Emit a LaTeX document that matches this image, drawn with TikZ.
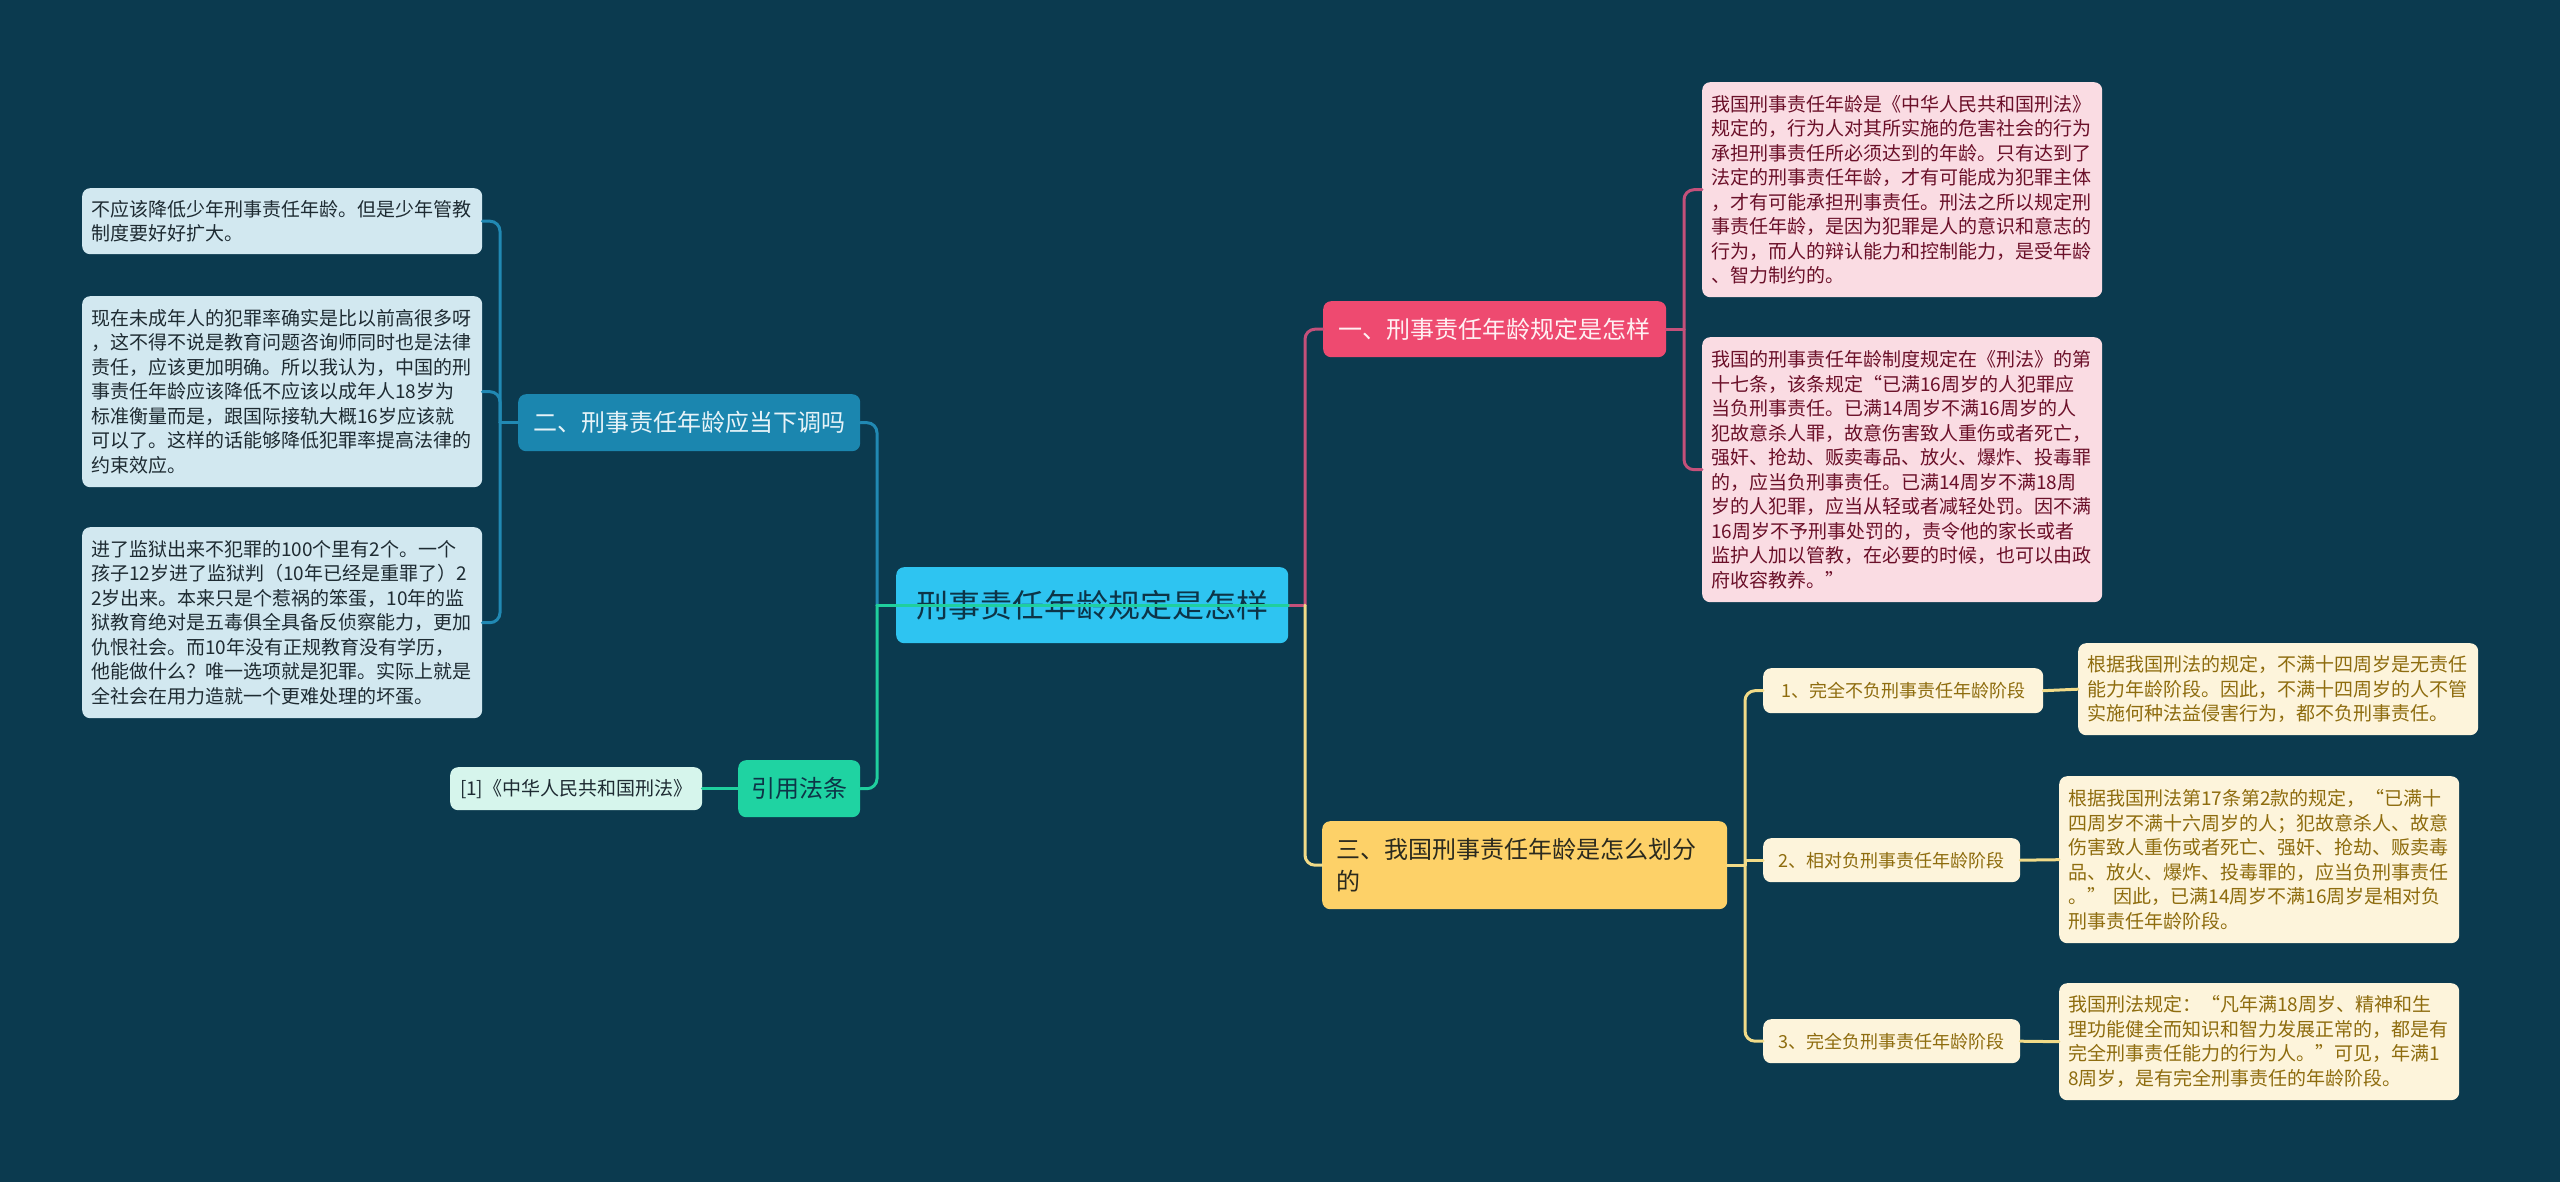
\documentclass[tikz,border=0pt]{standalone}
\usepackage{fontspec}
\setmainfont{Noto Sans CJK SC}
\usetikzlibrary{calc}
\definecolor{bgc}{HTML}{0B3A4F}
\definecolor{cfill}{HTML}{2EC4F1}
\definecolor{ctext}{HTML}{0D3447}
\definecolor{bluefill}{HTML}{1B86AF}
\definecolor{bluetext}{HTML}{E6F3F8}
\definecolor{blueline}{HTML}{2189B3}
\definecolor{bluenote}{HTML}{D2E8F0}
\definecolor{darktext}{HTML}{1E2B32}
\definecolor{greenfill}{HTML}{1FD3A2}
\definecolor{greenline}{HTML}{1FCF9E}
\definecolor{greennote}{HTML}{D6F5EC}
\definecolor{pinkfill}{HTML}{EE4A70}
\definecolor{pinktextw}{HTML}{FFF0F3}
\definecolor{pinkline}{HTML}{C4507A}
\definecolor{pinknote}{HTML}{FADCE3}
\definecolor{pinktext}{HTML}{6B1029}
\definecolor{yelfill}{HTML}{FDD168}
\definecolor{yeltext}{HTML}{2B2A1E}
\definecolor{yelline}{HTML}{F1DB88}
\definecolor{creamfill}{HTML}{FDF4DB}
\definecolor{goldtext}{HTML}{8E6C0E}
\tikzset{
  nbox/.style={rounded corners=8pt, anchor=north west, inner ysep=0pt},
  notebox/.style={nbox, inner xsep=9pt, align=left, text width=382pt,
    font=\fontsize{19}{24.5}\selectfont},
  mainbox/.style={nbox, inner xsep=0pt, align=center,
    font=\fontsize{24}{30}\selectfont},
  bnote/.style={notebox, fill=bluenote, text=darktext},
  pnote/.style={notebox, fill=pinknote, text=pinktext},
  ynote/.style={notebox, fill=creamfill, text=goldtext},
  ysub/.style={nbox, inner xsep=0pt, align=center, fill=creamfill, text=goldtext,
    font=\fontsize{18}{22}\selectfont},
  conn/.style={line width=3pt, line cap=round},
  elbow/.style={line width=3pt, line cap=round, rounded corners=10pt},
}
\begin{document}
\begin{tikzpicture}[x=1pt,y=-1pt]
\fill[bgc] (0,0) rectangle (2560,1182);
\useasboundingbox (0,0) rectangle (2560,1182);

% branch x positions
\coordinate (brL) at (877,0);
\coordinate (brR) at (1305,0);
\coordinate (brB2) at (500,0);
\coordinate (brB1) at (1684,0);
\coordinate (brB3) at (1745,0);

% centre
\node[nbox, fill=cfill, text=ctext, minimum width=392pt, minimum height=76pt,
  font=\fontsize{32}{38}\selectfont] (c) at (896,567) {刑事责任年龄规定是怎样};

% level 1
\node[mainbox, fill=pinkfill, text=pinktextw, minimum width=343pt, minimum height=56pt]
  (b1) at (1323,301) {一、刑事责任年龄规定是怎样};
\node[mainbox, fill=bluefill, text=bluetext, minimum width=342pt, minimum height=57pt]
  (b2) at (518,394) {二、刑事责任年龄应当下调吗};
\node[nbox, fill=yelfill, text=yeltext, inner xsep=14pt, text width=377pt, align=left,
  minimum height=88pt, font=\fontsize{24}{32}\selectfont]
  (b3) at (1322,821) {三、我国刑事责任年龄是怎么划分\\的};
\node[mainbox, fill=greenfill, text=ctext, minimum width=122pt, minimum height=57pt]
  (b4) at (738,760) {引用法条};

% left notes
\node[bnote, minimum height=66pt] (l1) at (82,188)
 {不应该降低少年刑事责任年龄。但是少年管教\\制度要好好扩大。};
\node[bnote, minimum height=191pt] (l2) at (82,296)
 {现在未成年人的犯罪率确实是比以前高很多呀\\，这不得不说是教育问题咨询师同时也是法律\\责任，应该更加明确。所以我认为，中国的刑\\事责任年龄应该降低不应该以成年人18岁为\\标准衡量而是，跟国际接轨大概16岁应该就\\可以了。这样的话能够降低犯罪率提高法律的\\约束效应。};
\node[bnote, minimum height=191pt] (l3) at (82,527)
 {进了监狱出来不犯罪的100个里有2个。一个\\孩子12岁进了监狱判（10年已经是重罪了）2\\2岁出来。本来只是个惹祸的笨蛋，10年的监\\狱教育绝对是五毒俱全具备反侦察能力，更加\\仇恨社会。而10年没有正规教育没有学历，\\他能做什么？唯一选项就是犯罪。实际上就是\\全社会在用力造就一个更难处理的坏蛋。};

\node[nbox, fill=greennote, text=darktext, inner xsep=0pt, minimum width=252pt,
  minimum height=43pt, font=\fontsize{19}{24}\selectfont]
  (ref) at (450,767) {[1]《中华人民共和国刑法》};

% pink notes
\node[pnote, minimum height=215pt] (p1) at (1702,82)
 {我国刑事责任年龄是《中华人民共和国刑法》\\规定的，行为人对其所实施的危害社会的行为\\承担刑事责任所必须达到的年龄。只有达到了\\法定的刑事责任年龄，才有可能成为犯罪主体\\，才有可能承担刑事责任。刑法之所以规定刑\\事责任年龄，是因为犯罪是人的意识和意志的\\行为，而人的辩认能力和控制能力，是受年龄\\、智力制约的。};
\node[pnote, minimum height=265pt] (p2) at (1702,337)
 {我国的刑事责任年龄制度规定在《刑法》的第\\十七条，该条规定“已满16周岁的人犯罪应\\当负刑事责任。已满14周岁不满16周岁的人\\犯故意杀人罪，故意伤害致人重伤或者死亡，\\强奸、抢劫、贩卖毒品、放火、爆炸、投毒罪\\的，应当负刑事责任。已满14周岁不满18周\\岁的人犯罪，应当从轻或者减轻处罚。因不满\\16周岁不予刑事处罚的，责令他的家长或者\\监护人加以管教，在必要的时候，也可以由政\\府收容教养。”};

% yellow sub nodes
\node[ysub, minimum width=280pt, minimum height=45pt] (y1) at (1763,668) {1、完全不负刑事责任年龄阶段};
\node[ysub, minimum width=257pt, minimum height=44pt] (y2) at (1763,838) {2、相对负刑事责任年龄阶段};
\node[ysub, minimum width=257pt, minimum height=44pt] (y3) at (1763,1019) {3、完全负刑事责任年龄阶段};

\node[ynote, minimum height=92pt] (yn1) at (2078,643)
 {根据我国刑法的规定，不满十四周岁是无责任\\能力年龄阶段。因此，不满十四周岁的人不管\\实施何种法益侵害行为，都不负刑事责任。};
\node[ynote, minimum height=167pt] (yn2) at (2059,776)
 {根据我国刑法第17条第2款的规定，“已满十\\四周岁不满十六周岁的人；犯故意杀人、故意\\伤害致人重伤或者死亡、强奸、抢劫、贩卖毒\\品、放火、爆炸、投毒罪的，应当负刑事责任\\。”\hspace{0.4em}因此，已满14周岁不满16周岁是相对负\\刑事责任年龄阶段。};
\node[ynote, minimum height=117pt] (yn3) at (2059,983)
 {我国刑法规定：“凡年满18周岁、精神和生\\理功能健全而知识和智力发展正常的，都是有\\完全刑事责任能力的行为人。”可见，年满1\\8周岁，是有完全刑事责任的年龄阶段。};

% connectors: left side of centre
\draw[conn, blueline] (c.west) -- (c.west -| brL);
\draw[elbow, blueline] (c.west -| brL) |- (b2.east);
\draw[conn, blueline] (b2.west) -- (b2.west -| brB2);
\draw[elbow, blueline] (b2.west -| brB2) |- (l1.east);
\draw[elbow, blueline] (b2.west -| brB2) |- (l2.east);
\draw[elbow, blueline] (b2.west -| brB2) |- (l3.east);
\draw[conn, greenline] (b4.west) -- (ref.east);

% right side of centre
\draw[conn, pinkline] (c.east) -- (c.east -| brR);
\draw[elbow, pinkline] (c.east -| brR) |- (b1.west);
\draw[conn, pinkline] (b1.east) -- (b1.east -| brB1);
\draw[elbow, pinkline] (b1.east -| brB1) |- (p1.west);
\draw[elbow, pinkline] (b1.east -| brB1) |- (p2.west);

\draw[elbow, yelline] (c.east -| brR) |- (b3.west);
\draw[conn, yelline] (b3.east) -- (b3.east -| brB3);
\draw[elbow, yelline] (b3.east -| brB3) |- (y1.west);
\draw[conn, yelline] (b3.east -| brB3) |- (y2.west);
\draw[elbow, yelline] (b3.east -| brB3) |- (y3.west);
\draw[conn, yelline] (y1.east) -- (yn1.west);
\draw[conn, yelline] (y2.east) -- (yn2.west);
\draw[conn, yelline] (y3.east) -- (yn3.west);

% green connector runs across the centre node, as in the reference
\draw[conn, greenline] (c.east) -- (c.west -| brL);
\draw[elbow, greenline] (c.west -| brL) |- (b4.east);
\end{tikzpicture}
\end{document}
